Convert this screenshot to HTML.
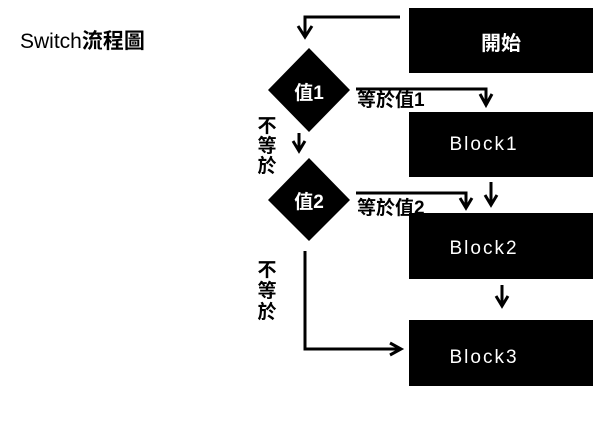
<!DOCTYPE html>
<html><head><meta charset="utf-8"><style>
body{margin:0;width:600px;height:440px;background:#fff;overflow:hidden}
svg text{font-family:"Liberation Sans","Noto Sans CJK TC",sans-serif}
</style></head><body>
<svg width="600" height="440" viewBox="0 0 600 440">
<text x="20" y="48" font-size="21" fill="#000">Switch<tspan font-weight="bold">流程圖</tspan></text>
<rect x="409" y="8" width="184" height="65" fill="#000"/>
<rect x="409" y="112" width="184" height="65" fill="#000"/>
<rect x="409" y="213" width="184" height="66" fill="#000"/>
<rect x="409" y="320" width="184" height="66" fill="#000"/>
<text x="501" y="50" font-size="20" font-weight="bold" fill="#fff" text-anchor="middle">開始</text>
<text x="484" y="150" font-size="19" fill="#fff" text-anchor="middle" letter-spacing="2">Block1</text>
<text x="484" y="254" font-size="19" fill="#fff" text-anchor="middle" letter-spacing="2">Block2</text>
<text x="484" y="363" font-size="19" fill="#fff" text-anchor="middle" letter-spacing="2">Block3</text>
<polygon points="309,48 350,90 309,132 268,90" fill="#000"/>
<polygon points="309,158 350,200 309,241 268,200" fill="#000"/>
<text x="309" y="99" font-size="19" font-weight="bold" fill="#fff" text-anchor="middle">值1</text>
<text x="309" y="208" font-size="19" font-weight="bold" fill="#fff" text-anchor="middle">值2</text>
<g stroke="#000" stroke-width="3" fill="none">
<polyline points="400,17 305,17 305,37"/>
<polyline points="298,26 305,37 312,26"/>
<polyline points="356,89 486,89 486,104"/>
<polyline points="480,94 486,105 492,94"/>
<line x1="299" y1="133" x2="299" y2="151"/>
<polyline points="293,141 299,151 305,141"/>
<line x1="491" y1="182" x2="491" y2="205"/>
<polyline points="485,195 491,205 497,195"/>
<polyline points="356,193 466,193 466,208"/>
<polyline points="460,198 466,208 472,198"/>
<line x1="502" y1="285" x2="502" y2="306"/>
<polyline points="496,296 502,306 508,296"/>
<polyline points="305,251 305,349 400,349"/>
<polyline points="390,343 401,349 390,355"/>
</g>
<text x="357" y="106" font-size="19" font-weight="bold" fill="#000">等於值1</text>
<text x="357" y="214" font-size="19" font-weight="bold" fill="#000">等於值2</text>
<g font-size="19" font-weight="bold" fill="#000" text-anchor="middle">
<text x="267" y="132">不</text><text x="267" y="152">等</text><text x="267" y="172">於</text>
<text x="267" y="276">不</text><text x="267" y="297">等</text><text x="267" y="318">於</text>
</g>
</svg>
</body></html>
